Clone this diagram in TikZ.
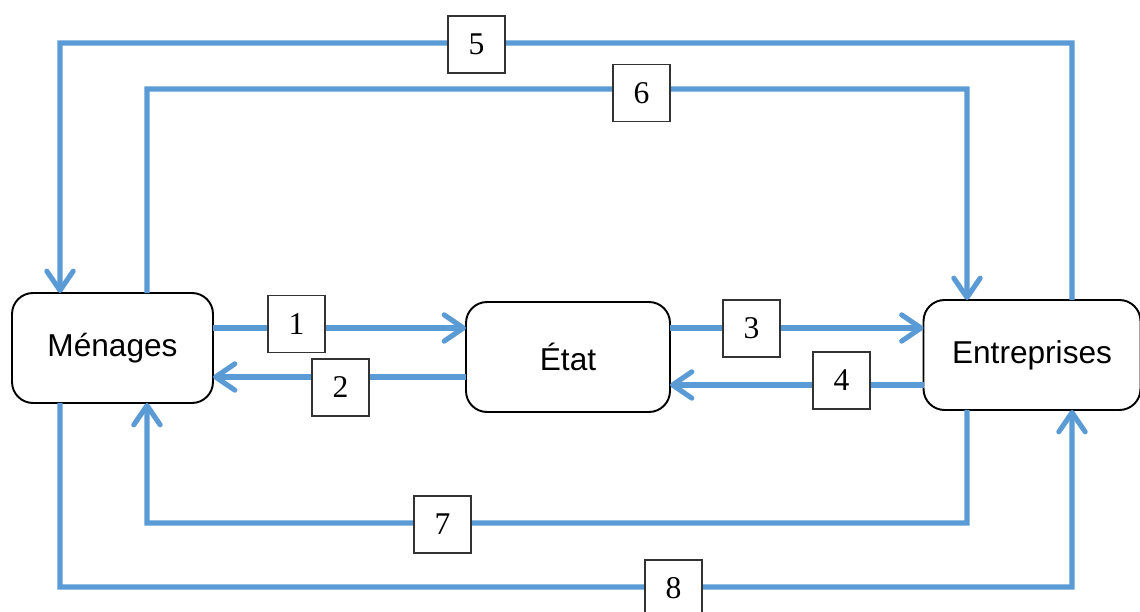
\documentclass[tikz,border=0pt]{standalone}
\usepackage{fontspec}
\setmainfont{Liberation Serif}
\newfontfamily\sansfont{Liberation Sans}
\usetikzlibrary{arrows.meta}
\definecolor{flowblue}{RGB}{91,155,213}

\begin{document}
\begin{tikzpicture}[x=0.02cm, y=0.02cm,
    flow/.style={draw=flowblue, line width=2.9pt},
    arr/.style={flow, -{Straight Barb[round, length=11pt, width=15pt]}},
    sector/.style={draw, line width=1.1pt, rounded corners=0.42cm, minimum width=#1, minimum height=2.2cm, inner sep=0pt, outer sep=0pt, font=\sansfont\fontsize{18}{20}\selectfont},
    num/.style={draw=black!80, line width=0.6pt, fill=white, minimum size=1.14cm, inner sep=0pt, font=\fontsize{18}{20}\selectfont}]
    \useasboundingbox (0,0) rectangle (1140,612);

    \node[sector=4.02cm] (men) at (112.5, 264) {Ménages};
    \node[sector=4.08cm] (etat) at (568, 255) {État};
    \node[sector=4.34cm] (ent) at (1032, 257) {Entreprises};

    \coordinate (c5) at (60, 569);
    \coordinate (c6) at (967, 523);
    \coordinate (c7) at (147, 89);
    \coordinate (c8) at (1072, 25);

    \draw[arr] ([yshift=0.4cm]men.east) -- ([yshift=0.4cm]men.east -| etat.west);
    \draw[arr] ([yshift=-0.4cm]etat.west) -- ([yshift=-0.4cm]etat.west -| men.east);
    \draw[arr] ([yshift=0.58cm]etat.east) -- ([yshift=0.58cm]etat.east -| ent.west);
    \draw[arr] ([yshift=-0.6cm]ent.west) -- ([yshift=-0.6cm]ent.west -| etat.east);
    \draw[arr] ([xshift=0.8cm]ent.north) |- (c5) -- ([xshift=-1.05cm]men.north);
    \draw[arr] ([xshift=0.69cm]men.north) |- (c6) -- ([xshift=-1.3cm]ent.north);
    \draw[arr] ([xshift=-1.3cm]ent.south) |- (c7) -- ([xshift=0.69cm]men.south);
    \draw[arr] ([xshift=-1.05cm]men.south) |- (c8) -- ([xshift=0.8cm]ent.south);

    \node[num] (n1) at (296.5, 288) {1};
    \node[num] (n2) at (340.5, 224.5) {2};
    \node[num] (n3) at (751.5, 283.5) {3};
    \node[num] (n4) at (841.5, 231.5) {4};
    \node[num] (n5) at (476.5, 567.5) {5};
    \node[num] (n6) at (641.5, 519) {6};
    \node[num] (n7) at (442.5, 87.5) {7};
    \node[num] (n8) at (673.5, 23.5) {8};
\end{tikzpicture}
\end{document}
